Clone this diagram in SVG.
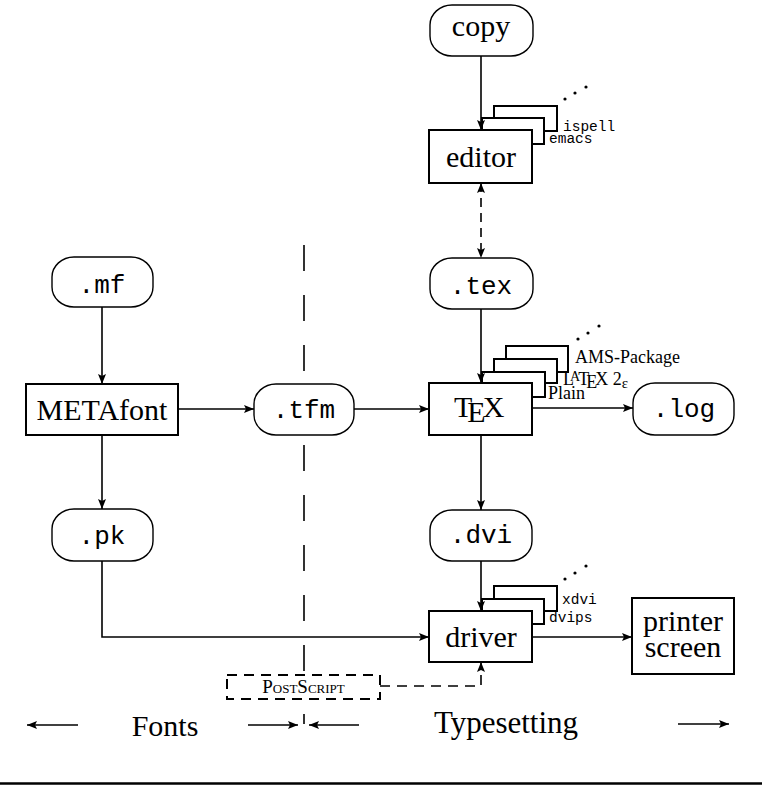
<svg xmlns="http://www.w3.org/2000/svg" width="762" height="791" viewBox="0 0 762 791">
<style>
.bg{fill:#fff}
.box{fill:#fff;stroke:#000;stroke-width:2}
.rnd{fill:#fff;stroke:#000;stroke-width:1.4}
.stk{fill:#fff;stroke:#000;stroke-width:2}
.ln{fill:none;stroke:#000;stroke-width:1.6}
.dash{stroke-dasharray:9 6}
.serif{font-family:"Liberation Serif","DejaVu Serif",serif;fill:#000}
.mono{font-family:"Liberation Mono","DejaVu Sans Mono",monospace;fill:#000}
.big{font-size:30px}
.tt{font-size:26px}
.sm{font-size:18px}
.smtt{font-size:14.5px}
.mid{text-anchor:middle}
</style>
<defs>
<marker id="ah" viewBox="0 0 10 8" refX="10" refY="4" markerWidth="10" markerHeight="8" markerUnits="userSpaceOnUse" orient="auto-start-reverse">
<path d="M0,0 L10,4 L0,8 L2,4 z" fill="#000"/>
</marker>
</defs>
<rect class="bg" x="0" y="0" width="762" height="791"/>

<g id="separator">
<line class="ln" x1="304" y1="245" x2="304" y2="672" stroke-width="2" stroke-dasharray="26 24"/>
<line class="ln" x1="304" y1="714" x2="304" y2="724" stroke-width="2"/>
</g>

<g id="copy">
<rect class="rnd" x="430" y="5" width="103" height="51" rx="22" ry="20"/>
<text class="serif big mid" x="481" y="36">copy</text>
</g>

<g id="editor-stack">
<rect class="stk" x="494" y="106" width="63" height="25"/>
<rect class="stk" x="482" y="118" width="62" height="26"/>
<circle cx="565" cy="99" r="1.6"/><circle cx="575" cy="93" r="1.6"/><circle cx="586" cy="87" r="1.6"/>
<text class="mono smtt" x="563" y="131">ispell</text>
<text class="mono smtt" x="549" y="143">emacs</text>
</g>
<g id="editor">
<rect class="box" x="429" y="130" width="103" height="53"/>
<text class="serif big mid" x="481" y="167">editor</text>
</g>

<g id="tex-file">
<rect class="rnd" x="430" y="258" width="103" height="51" rx="22" ry="20"/>
<text class="mono tt mid" x="481" y="294">.tex</text>
</g>

<g id="mf-file">
<rect class="rnd" x="52" y="257" width="101" height="50" rx="22" ry="20"/>
<text class="mono tt mid" x="102" y="293">.mf</text>
</g>

<g id="metafont">
<rect class="box" x="26" y="384" width="152" height="51"/>
<text class="serif big mid" x="102" y="420">METAfont</text>
</g>

<g id="tfm-file">
<rect class="rnd" x="254" y="384" width="100" height="51" rx="22" ry="20"/>
<text class="mono tt mid" x="304" y="418">.tfm</text>
</g>

<g id="tex-stack">
<rect class="stk" x="506" y="346" width="62" height="26"/>
<rect class="stk" x="494" y="359" width="63" height="24"/>
<rect class="stk" x="482" y="372" width="63" height="25"/>
<circle cx="578" cy="339" r="1.6"/><circle cx="588" cy="333" r="1.6"/><circle cx="599" cy="326" r="1.6"/>
<text class="serif sm" x="575" y="363">AMS-Package</text>
<text class="serif sm" x="563" y="385">L<tspan dx="-4" dy="-4" font-size="14">A</tspan><tspan dx="-2" dy="4">T</tspan><tspan dx="-3" dy="3">E</tspan><tspan dx="-2" dy="-3">X</tspan> 2<tspan dy="3" font-size="15">ε</tspan></text>
<text class="serif sm" x="548" y="399">Plain</text>
</g>
<g id="tex">
<rect class="box" x="429" y="383" width="103" height="52"/>
<text class="serif big" x="454" y="417">T<tspan dx="-5" dy="5">E</tspan><tspan dx="-3" dy="-5">X</tspan></text>
</g>

<g id="log-file">
<rect class="rnd" x="633" y="383" width="101" height="52" rx="22" ry="20"/>
<text class="mono tt mid" x="684" y="417">.log</text>
</g>

<g id="pk-file">
<rect class="rnd" x="52" y="509" width="101" height="52" rx="22" ry="20"/>
<text class="mono tt mid" x="102" y="544">.pk</text>
</g>

<g id="dvi-file">
<rect class="rnd" x="430" y="510" width="102" height="51" rx="22" ry="20"/>
<text class="mono tt mid" x="481" y="543">.dvi</text>
</g>

<g id="driver-stack">
<rect class="stk" x="494" y="586" width="63" height="25"/>
<rect class="stk" x="482" y="599" width="62" height="25"/>
<circle cx="565" cy="579" r="1.6"/><circle cx="575" cy="573" r="1.6"/><circle cx="586" cy="566" r="1.6"/>
<text class="mono smtt" x="562" y="604">xdvi</text>
<text class="mono smtt" x="549" y="622">dvips</text>
</g>
<g id="driver">
<rect class="box" x="429" y="611" width="103" height="51"/>
<text class="serif big mid" x="481" y="647">driver</text>
</g>

<g id="printer">
<rect class="box" x="632" y="598" width="102" height="76"/>
<text class="serif big mid" x="683" y="631">printer</text>
<text class="serif big mid" x="683" y="657">screen</text>
</g>

<g id="postscript">
<rect x="227" y="675" width="153" height="24" fill="#fff" stroke="#000" stroke-width="2" stroke-dasharray="10 7"/>
<text class="serif mid" x="303.5" y="693" font-size="19" style="font-variant:small-caps">PostScript</text>
</g>

<g id="connectors">
<path class="ln" d="M481,56 V130" marker-end="url(#ah)"/>
<path class="ln dash" d="M481,183 V258" marker-start="url(#ah)" marker-end="url(#ah)"/>
<path class="ln" d="M481,309 V383" marker-end="url(#ah)"/>
<path class="ln" d="M532,408 H633" marker-end="url(#ah)"/>
<path class="ln" d="M481,435 V510" marker-end="url(#ah)"/>
<path class="ln" d="M481,561 V611" marker-end="url(#ah)"/>
<path class="ln" d="M532,637 H632" marker-end="url(#ah)"/>
<path class="ln" d="M102,307 V384" marker-end="url(#ah)"/>
<path class="ln" d="M178,409 H254" marker-end="url(#ah)"/>
<path class="ln" d="M354,409 H429" marker-end="url(#ah)"/>
<path class="ln" d="M102,435 V509" marker-end="url(#ah)"/>
<path class="ln" d="M102,561 V637 H429" marker-end="url(#ah)"/>
<path class="ln" d="M380,686 H481 V662" stroke-dasharray="10 7" marker-end="url(#ah)"/>
</g>

<g id="legend">
<path class="ln" d="M78,725 H27" marker-end="url(#ah)"/>
<text class="serif big mid" x="165" y="736">Fonts</text>
<path class="ln" d="M248,725 H298" marker-end="url(#ah)"/>
<path class="ln" d="M359,725 H309" marker-end="url(#ah)"/>
<text class="serif mid" x="506" y="733" font-size="31">Typesetting</text>
<path class="ln" d="M678,724 H729" marker-end="url(#ah)"/>
<line x1="0" y1="783.5" x2="762" y2="783.5" stroke="#000" stroke-width="2.5"/>
</g>
</svg>
